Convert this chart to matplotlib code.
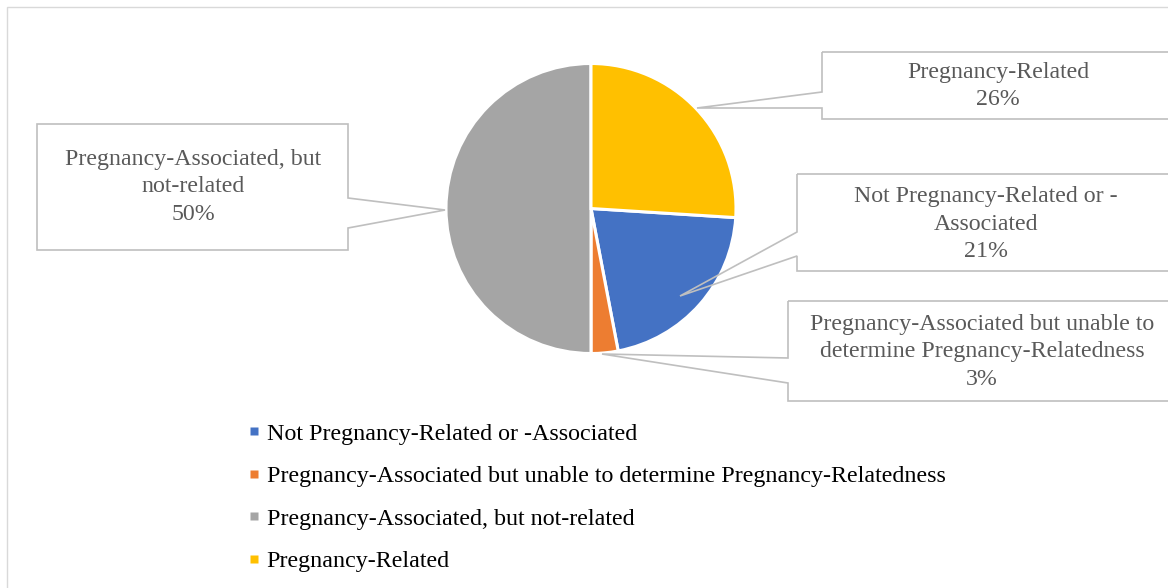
import matplotlib
matplotlib.use("Agg")
import matplotlib.pyplot as plt
from matplotlib.patches import Polygon, Rectangle
from matplotlib.lines import Line2D

# death review categories (legend order)
categories = [
    "Not Pregnancy-Related or -Associated",
    "Pregnancy-Associated but unable to determine Pregnancy-Relatedness",
    "Pregnancy-Associated, but not-related",
    "Pregnancy-Related",
]
shares = [21, 3, 50, 26]
colors = ["#4472C4", "#ED7D31", "#A5A5A5", "#FFC000"]

# text shown in each callout
callout_names = [
    "Not Pregnancy-Related or -\nAssociated",
    "Pregnancy-Associated but unable to\ndetermine Pregnancy-Relatedness",
    "Pregnancy-Associated, but\nnot-related",
    "Pregnancy-Related",
]

W, H = 1168, 588
plt.rcParams["font.family"] = ["Liberation Serif", "DejaVu Serif"]

fig = plt.figure(figsize=(W / 100, H / 100), dpi=100)
ax = fig.add_axes([0, 0, 1, 1])


def py(y):
    # pixel row (top down) -> axes y (bottom up)
    return H - y


# the last slice (Pregnancy-Related) starts at 12 o'clock
start = 90 - 360 * shares[-1] / sum(shares)
wedges, _ = ax.pie(shares, colors=colors, startangle=start, counterclock=False,
                   center=(591, py(208.5)), radius=145, frame=True,
                   wedgeprops=dict(edgecolor="white", linewidth=2.2))
ax.set_xlim(0, W)
ax.set_ylim(0, H)
ax.set_aspect("equal")
ax.axis("off")
for w in wedges:
    w.set_zorder(2)

# outer chart frame
ax.add_patch(Rectangle((6.5, -20), W + 40, py(7) + 20, fill=False,
                       edgecolor="#D9D9D9", lw=1.0, zorder=0))

# callout outlines: box (left, top, right, bottom), pointer base rows, pointer tip
callouts = [
    dict(box=(797, 174, 1190, 271), side="left", base=(232, 256), tip=(680, 296), tx=986, ty=224),
    dict(box=(788, 301, 1190, 401), side="left", base=(358, 383), tip=(602, 354), tx=982, ty=352),
    dict(box=(37, 124, 348, 250), side="right", base=(198, 228), tip=(445, 210), tx=193, ty=187),
    dict(box=(822, 52, 1190, 119), side="left", base=(92, 108), tip=(697, 108), tx=998, ty=86),
]

for c, name, val in zip(callouts, callout_names, shares):
    x0, y0, x1, y1 = c["box"]
    b0, b1 = c["base"]
    if c["side"] == "left":
        pts = [(x0, y0), (x1, y0), (x1, y1), (x0, y1), (x0, b1), c["tip"], (x0, b0)]
    else:
        pts = [(x0, y0), (x1, y0), (x1, b0), c["tip"], (x1, b1), (x1, y1), (x0, y1)]
    pts = [(x, py(y)) for x, y in pts]
    ax.add_patch(Polygon(pts, closed=True, facecolor="white", edgecolor="none", zorder=1))
    ax.add_patch(Polygon(pts, closed=True, fill=False, edgecolor="#BFBFBF", lw=1.2, zorder=3))
    ax.text(c["tx"], py(c["ty"]), f"{name}\n{val}%", ha="center", va="center",
            fontsize=17.2, color="#595959", linespacing=1.38, zorder=4)

handles = [Line2D([], [], marker="s", linestyle="none", markersize=5.5,
                  markerfacecolor=col, markeredgecolor="none") for col in colors]
ax.legend(handles, categories, loc="upper left", bbox_to_anchor=(236 / W, py(411) / H),
          frameon=False, fontsize=17.3, handlelength=0.5, handletextpad=0.28,
          labelspacing=0.86, borderpad=0, labelcolor="black")

fig.savefig("out.png", dpi=100)
